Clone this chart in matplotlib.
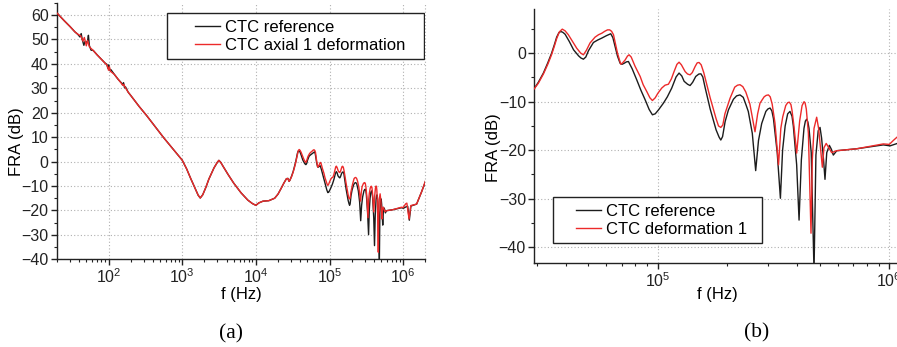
import numpy as np
import matplotlib
matplotlib.use("Agg")
import matplotlib.pyplot as plt
from matplotlib.patches import Rectangle
from matplotlib.ticker import LogLocator, MultipleLocator, NullFormatter, LogFormatterSciNotation

plt.rcParams['font.family'] = ['Liberation Sans', 'DejaVu Sans']
plt.rcParams['mathtext.fontset'] = 'custom'
plt.rcParams['mathtext.rm'] = 'Liberation Sans'
plt.rcParams['mathtext.it'] = 'Liberation Sans:italic'

# ---------------- data ----------------
# shared low-frequency trace (both measurements coincide)
lowf_hz = [20, 25, 30, 35, 70, 80, 90, 120, 135, 185, 200, 260, 330, 430, 560, 750,
           1000, 1150, 1300, 1500, 1650, 1760, 1900, 2100, 2300, 2700, 3000, 3150,
           3350, 3600, 4200, 5000, 6300, 7800, 9000, 10000, 11000, 12500, 15000, 18000,
           20000, 22000, 24000, 26000, 27200, 28250]
lowf_db = [60.8, 57.7, 55.3, 53.1, 43.7, 41.9, 40.3, 35.7, 33.7, 28.4, 27.1, 22.6, 18.8,
           14.3, 9.8, 5.2, 0.6, -3.0, -6.8, -11.0, -13.8, -14.9, -13.6, -10.5, -7.2,
           -2.6, -0.3, 0.5, -0.4, -2.0, -5.3, -8.8, -12.8, -15.8, -17.2, -17.9, -16.9,
           -16.2, -16.0, -15.0, -13.3, -11.0, -8.8, -7.0, -6.9, -8.1]

# measurement noise segments at low frequency
ref_noise_hz = [38, 41, 42.6, 44, 46.3, 48, 50, 52, 53.4, 55, 58, 62,
                95, 98, 101, 104, 108, 150, 155, 160, 165, 170]
ref_noise_db = [52.2, 51.0, 52.4, 50.0, 47.6, 49.2, 48.6, 49.5, 51.7, 47.5, 45.6, 45.5,
                39.8, 38.2, 39.6, 37.4, 37.6, 32.2, 31.5, 32.3, 30.2, 30.6]
def_noise_hz = [38, 42, 45, 47, 50, 52, 55, 58, 62, 96, 100, 103, 106, 150, 156, 162, 168]
def_noise_db = [52.2, 51.5, 49.3, 50.8, 47.4, 49.6, 47.0, 46.3, 45.5,
                39.4, 37.4, 38.8, 37.0, 32.0, 31.2, 31.6, 30.4]

# high-frequency part, CTC reference
ref_hf_hz = [29040, 30500, 32070, 33500, 34800, 35800, 36600, 37400, 38100, 38900, 39800,
             41500, 43300, 45500, 46600, 47750, 48900, 50200, 52750, 55000, 57300, 60000,
             62650, 64000, 65400, 67000, 68750, 70000, 71500, 73200, 74700, 77500, 81150,
             84500, 88200, 91800, 94840, 97500, 100700, 105800, 110000, 114900, 120000,
             123600, 127000, 130000, 134500, 137900, 141500, 145900, 150500, 153600,
             156500, 160000, 164000, 168400, 178600, 184000, 187200, 190500, 195400,
             201900, 212200, 219000, 226600, 234000, 240500, 246000, 256000, 264800,
             272300, 281100, 293000, 299000, 305500, 311000, 316000, 328000, 338600,
             346000, 355000, 364000, 372400, 380000, 385000, 398000, 407600, 417000,
             428000, 434000, 439700, 445000, 450000, 460000, 473000, 482000, 493000,
             502100, 510000, 520000, 527500, 536800, 551000, 562000, 573000, 593000,
             723000, 942000, 1007000, 1080000, 1150000, 1210000, 1270000, 1520000,
             1780000, 2000000]
ref_hf_db = [-7.56, -6.0, -4.1, -2.0, 0.0, 1.8, 3.3, 4.2, 4.47, 4.3, 3.9,
             2.4, 0.69, -0.55, -1.0, -1.24, -0.8, 0.5, 2.2, 2.7, 3.1, 3.6,
             4.0, 3.2, 1.37, -0.6, -2.06, -2.3, -2.1, -1.8, -1.72, -3.2, -5.5,
             -7.6, -9.6, -11.6, -12.7, -12.5, -11.7, -10.3, -9.0, -7.2, -4.9,
             -4.1, -4.7, -5.8, -6.4, -6.67, -6.0, -4.8, -4.3, -4.26,
             -4.9, -7.0, -9.2, -11.5, -15.8, -17.3, -17.9, -17.2, -14.1,
             -11.7, -9.5, -8.8, -8.6, -9.1, -10.65, -12.0, -16.5, -24.2,
             -18.0, -14.5, -12.0, -11.5, -11.3, -11.9, -13.5, -20.5, -29.9,
             -20.0, -15.0, -12.5, -12.0, -13.0, -15.0, -23.0, -34.4, -22.0,
             -15.5, -14.0, -13.6, -14.2, -15.5, -20.5, -45.0, -21.0, -16.0,
             -15.3, -17.5, -22.0, -26.0, -20.5, -19.0, -19.8, -21.0, -20.1,
             -19.7, -18.9, -19.1, -18.6, -18.3, -24.0, -18.2, -17.4,
             -12.3, -8.2]

# high-frequency part, CTC deformation
def_hf_hz = [29040, 30500, 32070, 33500, 34800, 35800, 36600, 37600, 38700, 39800, 41100,
             43000, 44700, 46500, 47750, 49200, 51000, 53600, 55500, 57300, 59000, 60670,
             62000, 63200, 64400, 67000, 69200, 70500, 72300, 74000, 75200, 76800, 79800,
             83950, 86500, 89640, 92500, 94840, 97500, 100000, 104000, 107500, 111200,
             114500, 117600, 121000, 123600, 126500, 131300, 134500, 137900, 141000,
             145000, 148000, 150800, 154000, 158000, 168400, 178600, 183000, 187200,
             191000, 195000, 205200, 215000, 221000, 226600, 233000, 240000, 250000,
             263000, 270000, 276400, 288000, 294000, 300600, 306000, 312000, 320800,
             332400, 340000, 346600, 357000, 364000, 370100, 376000, 380000, 387600,
             398100, 410000, 420000, 428400, 433000, 438000, 447200, 459000, 465000,
             473000, 485600, 495000, 505000, 513800, 522000, 533800, 545000, 563600,
             593000, 723000, 942000, 1000000, 1040000, 1080000, 1120000, 1200000,
             1270000, 1520000, 1780000, 2000000]
def_hf_db = [-7.56, -6.2, -4.3, -2.3, -0.3, 1.5, 3.0, 4.4, 4.95, 4.6, 3.8,
             2.3, 1.0, 0.0, -0.34, 0.6, 2.1, 3.3, 3.8, 4.1, 4.5, 4.8,
             4.8, 4.5, 3.8, 0.0, -2.27, -2.0, -1.4, -0.6, -0.34, -0.8, -2.7,
             -4.8, -6.5, -7.9, -9.2, -9.76, -9.2, -8.3, -7.2, -6.6, -6.4,
             -5.3, -3.8, -2.3, -1.86, -2.4, -3.8, -4.3, -4.47, -4.0,
             -2.75, -2.0, -1.92, -2.4, -4.0, -9.2, -13.5, -15.0, -15.3,
             -14.8, -12.5, -9.3, -7.0, -6.6, -6.5, -6.9, -8.0, -10.5,
             -16.2, -12.5, -10.3, -9.0, -8.7, -8.6, -9.0, -10.5, -14.4,
             -23.0, -15.5, -13.1, -10.8, -10.2, -10.1, -10.6, -11.8, -15.1,
             -20.6, -14.0, -10.8, -10.0, -10.3, -11.5, -16.5, -37.1, -22.0,
             -15.5, -13.2, -15.5, -19.9, -23.5, -19.5, -18.6, -19.3, -20.5,
             -20.1, -19.7, -18.7, -18.8, -18.0, -17.3, -17.0, -23.5,
             -18.0, -17.4, -12.3, -8.0]

labels_a = ["CTC reference", "CTC axial 1 deformation"]
labels_b = ["CTC reference", "CTC deformation 1"]


def merged(noise_hz, noise_db, hf_hz, hf_db):
    f = np.concatenate([lowf_hz, noise_hz, hf_hz]).astype(float)
    d = np.concatenate([lowf_db, noise_db, hf_db]).astype(float)
    o = np.argsort(f, kind="stable")
    return f[o], d[o]


ref_f, ref_d = merged(ref_noise_hz, ref_noise_db, ref_hf_hz, ref_hf_db)
def_f, def_d = merged(def_noise_hz, def_noise_db, def_hf_hz, def_hf_db)

BLACK = "#1c1c1c"
RED = "#ec2a2a"
W, H = 897, 347
TICK_FS = 11.5
LAB_FS = 12
LEG_FS = 12

fig = plt.figure(figsize=(W / 100, H / 100), dpi=100)


def px_axes(l, t, r, b):
    return fig.add_axes([l / W, 1 - b / H, (r - l) / W, (b - t) / H])


def style(ax):
    ax.set_xscale("log")
    for s in ("top", "right"):
        ax.spines[s].set_visible(False)
    for s in ("left", "bottom"):
        ax.spines[s].set_linewidth(1.0)
        ax.spines[s].set_color("#222222")
    ax.xaxis.set_major_locator(LogLocator(base=10, numticks=20))
    ax.xaxis.set_minor_locator(LogLocator(base=10, subs=np.arange(2, 10), numticks=20))
    ax.xaxis.set_minor_formatter(NullFormatter())
    ax.xaxis.set_major_formatter(LogFormatterSciNotation())
    ax.yaxis.set_major_locator(MultipleLocator(10))
    ax.yaxis.set_minor_locator(MultipleLocator(5))
    ax.tick_params(which="major", direction="out", length=4, width=1.0, labelsize=TICK_FS,
                   colors="#222222", pad=2)
    ax.tick_params(which="minor", direction="out", length=2.5, width=0.8, colors="#222222")
    ax.grid(True, which="major", linestyle=(0, (1, 2)), color="#b0b0b0", linewidth=0.8)
    ax.set_axisbelow(True)


# ---------- panel (a) ----------
ax1 = px_axes(57, 2.8, 425.4, 259.3)
style(ax1)
l1, = ax1.plot(ref_f, ref_d, color=BLACK, lw=1.0, label=labels_a[0], zorder=3)
l2, = ax1.plot(def_f, def_d, color=RED, lw=1.0, label=labels_a[1], zorder=3)
ax1.set_xlim(20, 2e6)
ax1.set_ylim(-40, 65)
ax1.set_yticks(np.arange(-40, 61, 10))
ax1.plot([1, 1], [0, 1], transform=ax1.transAxes, ls=(0, (1, 2)), color="#b0b0b0",
         lw=0.8, clip_on=False, zorder=1)
ax1.set_xlabel("f (Hz)", fontsize=LAB_FS)
ax1.set_ylabel("FRA (dB)", fontsize=LAB_FS, va="center", ha="center")
ax1.xaxis.set_label_coords((241.7 - 57) / 368.4, (259.3 - 295) / 256.5)
ax1.xaxis.label.set_va("center")
ax1.yaxis.set_label_coords((17 - 57) / 368.4, (259.3 - 141.7) / 256.5)

ax1.add_patch(Rectangle((167 / W, 1 - 59 / H), (424 - 167) / W, 46 / H, transform=fig.transFigure,
                        facecolor="white", edgecolor="#222222", lw=1.0, zorder=5))
leg1 = ax1.legend(handles=[l1, l2], loc="upper left", bbox_to_anchor=(195 / W, 1 - 19.5 / H),
                  bbox_transform=fig.transFigure, frameon=False, fontsize=LEG_FS,
                  handlelength=1.5, handletextpad=0.3, borderpad=0, borderaxespad=0,
                  labelspacing=0.22)
leg1.set_zorder(6)

# ---------- panel (b) ----------
ax2 = px_axes(534.3, 9, 898.9, 263.3)
style(ax2)
r1, = ax2.plot(ref_f, ref_d, color=BLACK, lw=1.0, label=labels_b[0], zorder=3)
r2, = ax2.plot(def_f, def_d, color=RED, lw=1.0, label=labels_b[1], zorder=3)
ax2.set_xlim(29300, 1.1e6)
ax2.set_ylim(-43.3, 9.1)
ax2.set_yticks(np.arange(-40, 1, 10))
ax2.set_xlabel("f (Hz)", fontsize=LAB_FS)
ax2.set_ylabel("FRA (dB)", fontsize=LAB_FS, va="center", ha="center")
ax2.xaxis.set_label_coords((717.7 - 534.3) / 364.6, (263.3 - 295) / 254.3)
ax2.xaxis.label.set_va("center")
ax2.yaxis.set_label_coords((493 - 534.3) / 364.6, (263.3 - 147.5) / 254.3)

ax2.add_patch(Rectangle((553 / W, 1 - 243 / H), (762 - 553) / W, 46 / H, transform=fig.transFigure,
                        facecolor="white", edgecolor="#222222", lw=1.0, zorder=5))
leg2 = ax2.legend(handles=[r1, r2], loc="upper left", bbox_to_anchor=(576 / W, 1 - 203.5 / H),
                  bbox_transform=fig.transFigure, frameon=False, fontsize=LEG_FS,
                  handlelength=1.5, handletextpad=0.3, borderpad=0, borderaxespad=0,
                  labelspacing=0.22)
leg2.set_zorder(6)

fig.text(230.8 / W, 1 - 334 / H, "(a)", family="Liberation Serif", fontsize=15.5,
         ha="center", va="center")
fig.text(757 / W, 1 - 333.3 / H, "(b)", family="Liberation Serif", fontsize=15.5,
         ha="center", va="center")

fig.savefig("out.png", dpi=100)
